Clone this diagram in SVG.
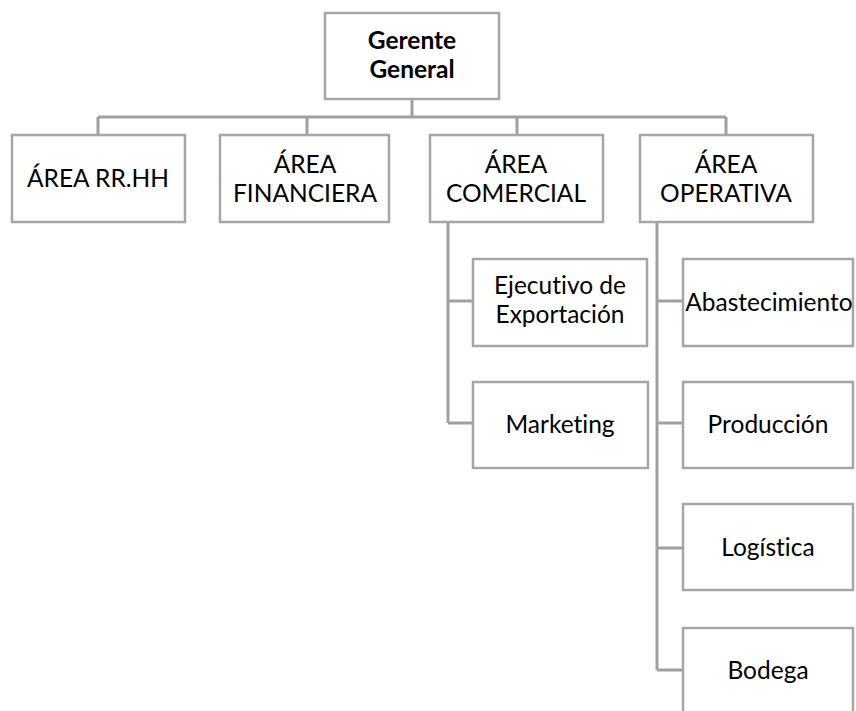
<svg xmlns="http://www.w3.org/2000/svg" width="856" height="711" viewBox="0 0 856 711">
<style>
.box{fill:#fff;stroke:#a6a6a6;stroke-width:2.5}
.t{font-family:Lato,"Liberation Sans",sans-serif;font-size:24.5px;fill:#000;text-anchor:middle;font-variant-ligatures:none;font-feature-settings:"liga" 0}
.b{font-weight:bold}
.c{fill:none;stroke:#a0a0a0;stroke-width:3}
</style>
<rect width="856" height="711" fill="#fff"/>
<g id="connectors">
<path class="c" d="M412 99V117M98 117H726M98 117V135M307 117V135M517 117V135M726 117V135"/>
<path class="c" d="M448 222V423M448 301H473M448 423H473"/>
<path class="c" d="M657 222V670M657 301H683M657 423H683M657 548H683M657 670H683"/>
</g>
<g id="gerente"><rect class="box" x="325" y="13" width="174" height="86"/><text class="t b" x="412" y="49">Gerente</text><text class="t b" x="412" y="78">General</text></g>
<g id="rrhh"><rect class="box" x="12" y="135" width="173" height="87"/><text class="t" x="98" y="187">ÁREA RR.HH</text></g>
<g id="financiera"><rect class="box" x="220" y="135" width="169" height="87"/><text class="t" x="305" y="173">ÁREA</text><text class="t" x="305" y="202">FINANCIERA</text></g>
<g id="comercial"><rect class="box" x="430" y="135" width="173" height="87"/><text class="t" x="516" y="173">ÁREA</text><text class="t" x="516" y="202">COMERCIAL</text></g>
<g id="operativa"><rect class="box" x="640" y="135" width="173" height="87"/><text class="t" x="726" y="173">ÁREA</text><text class="t" x="726" y="202">OPERATIVA</text></g>
<g id="ejecutivo"><rect class="box" x="473" y="259" width="174" height="87"/><text class="t" x="560" y="294">Ejecutivo de</text><text class="t" x="560" y="323">Exportación</text></g>
<g id="marketing"><rect class="box" x="473" y="382" width="175" height="86"/><text class="t" x="560" y="433">Marketing</text></g>
<g id="abastecimiento"><rect class="box" x="683" y="259" width="170" height="87"/><text class="t" x="769" y="311">Abastecimiento</text></g>
<g id="produccion"><rect class="box" x="683" y="382" width="170" height="86"/><text class="t" x="768" y="433">Producción</text></g>
<g id="logistica"><rect class="box" x="683" y="504" width="170" height="86"/><text class="t" x="768" y="556">Logística</text></g>
<g id="bodega"><rect class="box" x="683" y="628" width="170" height="90"/><text class="t" x="768" y="679">Bodega</text></g>
</svg>
